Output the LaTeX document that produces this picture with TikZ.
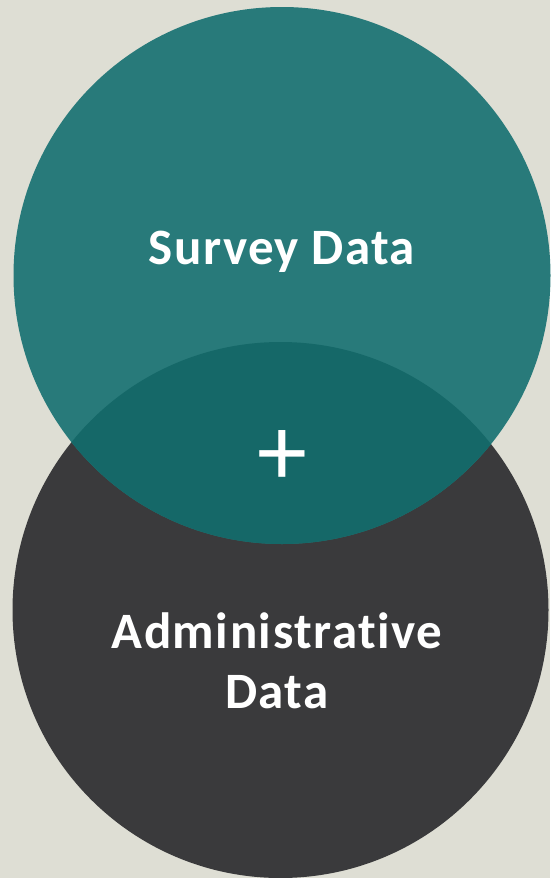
\documentclass[tikz,border=0pt]{standalone}
\usepackage{fontspec}
\setmainfont[Ligatures={NoCommon}]{Carlito}
\definecolor{bgc}{HTML}{DEDED4}
\definecolor{tealc}{HTML}{287A7A}
\definecolor{overc}{HTML}{156868}
\definecolor{darkc}{HTML}{3A3A3C}
\tikzset{lbl/.style={text=white,align=center,inner sep=0pt}}
\begin{document}
\begin{tikzpicture}[x=1pt,y=-1pt]
\fill[bgc] (0,0) rectangle (550,878);
\useasboundingbox (0,0) rectangle (550,878);
\fill[darkc] (280.5,610) circle[radius=268];
\fill[tealc] (282,275.5) circle[radius=268.5];
\begin{scope}
\clip (280.5,610) circle[radius=268];
\fill[overc] (282,275.5) circle[radius=268.5];
\end{scope}
\node[lbl,anchor=base,font=\bfseries\fontsize{51}{60}\selectfont\addfontfeatures{LetterSpace=2.7}] (survey) at (282,264) {Survey Data};
\node[lbl,anchor=base,font=\fontsize{100}{100}\selectfont] (plus) at (282,485) {+};
\node[lbl,anchor=base,font=\bfseries\fontsize{51}{60}\selectfont\addfontfeatures{LetterSpace=3}] (admin) at (277,708) {Administrative\\Data};
\end{tikzpicture}
\end{document}
